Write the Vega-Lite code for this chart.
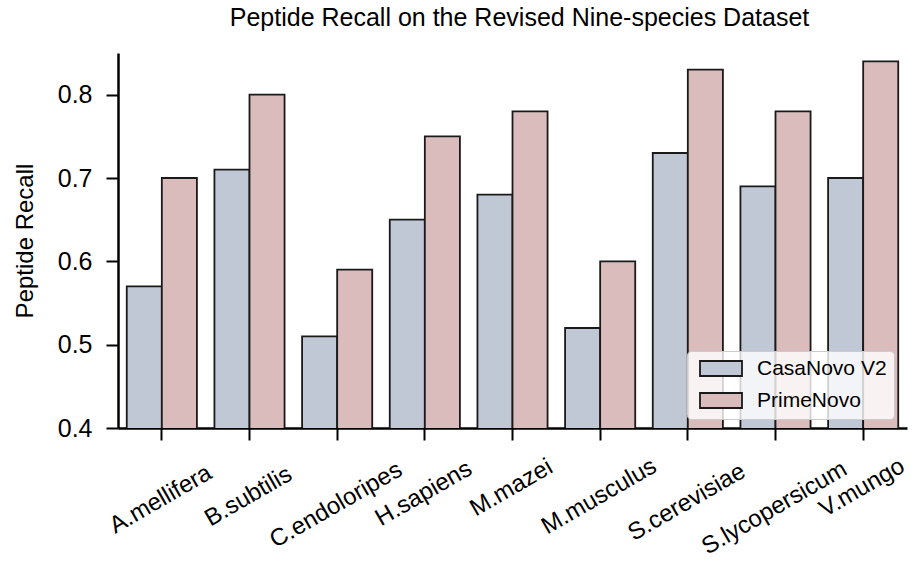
{
  "$schema": "https://vega.github.io/schema/vega-lite/v6.json",
  "width": 789,
  "height": 375,
  "autosize": {"type": "none"},
  "padding": {"left": 118, "top": 53, "right": 7, "bottom": 137},
  "background": "white",
  "title": {
    "text": "Peptide Recall on the Revised Nine-species Dataset",
    "font": "Liberation Sans",
    "fontSize": 25,
    "fontWeight": "normal",
    "color": "black",
    "offset": 22,
    "dx": 7
  },
  "config": {
    "view": {"stroke": null},
    "font": "Liberation Sans"
  },
  "data": {
    "values": [
      {"species": "A.mellifera", "model": "CasaNovo V2", "recall": 0.57},
      {"species": "A.mellifera", "model": "PrimeNovo", "recall": 0.70},
      {"species": "B.subtilis", "model": "CasaNovo V2", "recall": 0.71},
      {"species": "B.subtilis", "model": "PrimeNovo", "recall": 0.80},
      {"species": "C.endoloripes", "model": "CasaNovo V2", "recall": 0.51},
      {"species": "C.endoloripes", "model": "PrimeNovo", "recall": 0.59},
      {"species": "H.sapiens", "model": "CasaNovo V2", "recall": 0.65},
      {"species": "H.sapiens", "model": "PrimeNovo", "recall": 0.75},
      {"species": "M.mazei", "model": "CasaNovo V2", "recall": 0.68},
      {"species": "M.mazei", "model": "PrimeNovo", "recall": 0.78},
      {"species": "M.musculus", "model": "CasaNovo V2", "recall": 0.52},
      {"species": "M.musculus", "model": "PrimeNovo", "recall": 0.60},
      {"species": "S.cerevisiae", "model": "CasaNovo V2", "recall": 0.73},
      {"species": "S.cerevisiae", "model": "PrimeNovo", "recall": 0.83},
      {"species": "S.lycopersicum", "model": "CasaNovo V2", "recall": 0.69},
      {"species": "S.lycopersicum", "model": "PrimeNovo", "recall": 0.78},
      {"species": "V.mungo", "model": "CasaNovo V2", "recall": 0.70},
      {"species": "V.mungo", "model": "PrimeNovo", "recall": 0.84}
    ]
  },
  "mark": {"type": "bar", "stroke": "#1a1a1a", "strokeWidth": 1.8, "clip": true},
  "encoding": {
    "x": {
      "field": "species",
      "type": "nominal",
      "sort": null,
      "scale": {"paddingInner": 0.2, "paddingOuter": 0.1},
      "axis": {
        "title": null,
        "labelAngle": -30,
        "labelAlign": "center",
        "labelBaseline": "top",
        "labelFontSize": 24,
        "labelColor": "black",
        "labelPadding": {"expr": "17 + 2.875 * length(datum.label)"},
        "labelOffset": -7,
        "labelOverlap": false,
        "labelBound": false,
        "tickColor": "black",
        "tickWidth": 2,
        "tickSize": 12,
        "domainColor": "black",
        "domainWidth": 2.5,
        "grid": false
      }
    },
    "xOffset": {"field": "model", "type": "nominal"},
    "y": {
      "field": "recall",
      "type": "quantitative",
      "scale": {"domain": [0.4, 0.85], "nice": false, "zero": false},
      "axis": {
        "title": "Peptide Recall",
        "titleFontSize": 24,
        "titleFontWeight": "normal",
        "titleColor": "black",
        "titlePadding": 20,
        "values": [0.4, 0.5, 0.6, 0.7, 0.8],
        "format": ".1f",
        "labelFontSize": 25,
        "labelColor": "black",
        "labelPadding": 14,
        "tickColor": "black",
        "tickWidth": 2,
        "tickSize": 12,
        "domainColor": "black",
        "domainWidth": 2.5,
        "grid": false
      }
    },
    "color": {
      "field": "model",
      "type": "nominal",
      "scale": {"domain": ["CasaNovo V2", "PrimeNovo"], "range": ["#c0c8d6", "#dbbcbc"]},
      "legend": {
        "title": null,
        "orient": "none",
        "legendX": 569,
        "legendY": 298,
        "symbolType": "M-0.6,-1L5,-1L5,1L-0.6,1Z",
        "symbolSize": 225,
        "symbolStrokeColor": "#1a1a1a",
        "symbolStrokeWidth": 1.8,
        "labelFontSize": 21,
        "labelColor": "black",
        "labelOffset": 42,
        "rowPadding": 9,
        "padding": 7,
        "fillColor": "rgba(255,255,255,0.8)",
        "strokeColor": "#cccccc",
        "cornerRadius": 4
      }
    }
  }
}
